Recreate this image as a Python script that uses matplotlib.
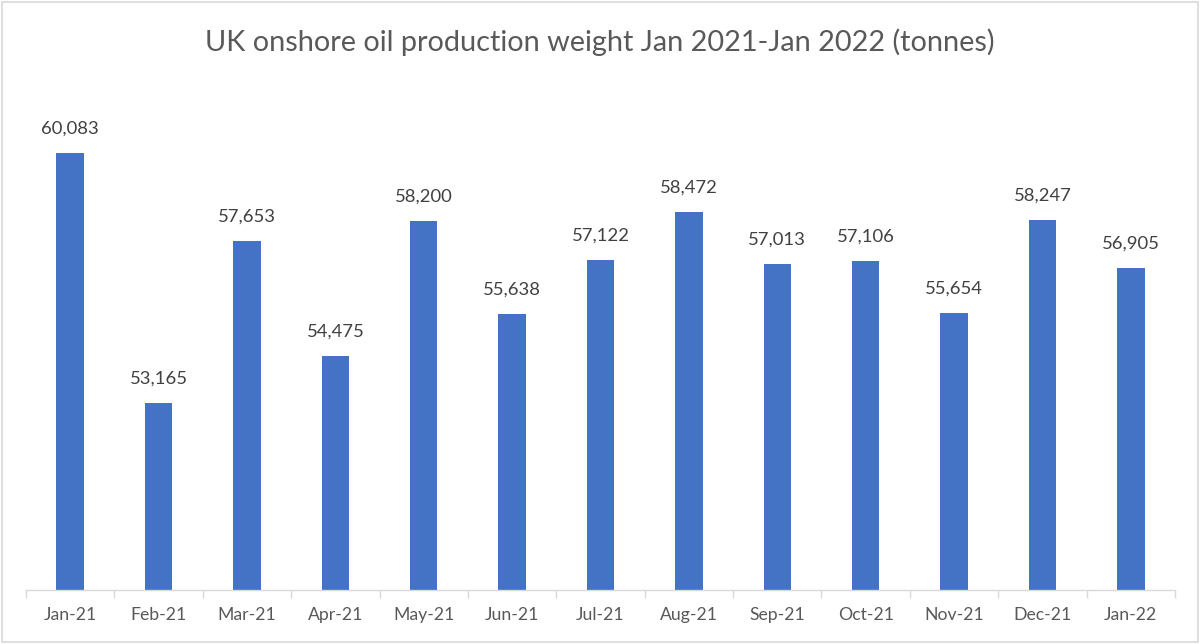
import matplotlib
matplotlib.use("Agg")
import matplotlib.pyplot as plt
from matplotlib.patches import Rectangle

months = ["Jan-21", "Feb-21", "Mar-21", "Apr-21", "May-21", "Jun-21", "Jul-21",
          "Aug-21", "Sep-21", "Oct-21", "Nov-21", "Dec-21", "Jan-22"]
tonnes = [60083, 53165, 57653, 54475, 58200, 55638, 57122,
          58472, 57013, 57106, 55654, 58247, 56905]

plt.rcParams["font.family"] = ["Lato", "DejaVu Sans"]

fig = plt.figure(figsize=(12, 6.44), dpi=100)
ax = fig.add_axes([26 / 1200, 1 - 590 / 644, 1149 / 1200, 506 / 644])

x = range(len(months))
ax.bar(x, tonnes, width=0.31, color="#4472C4", zorder=2)
for i, v in zip(x, tonnes):
    ax.text(i, v + 450, f"{v:,}", ha="center", va="bottom",
            fontsize=13.3, color="#404040")

ax.set_xlim(-0.5, len(months) - 0.5)
ax.set_ylim(48000, 62000)
ax.set_yticks([])
ax.set_xticks(list(x))
ax.set_xticklabels(months, fontsize=12.7, color="#595959")
ax.tick_params(axis="x", length=0, pad=12)
# category boundary ticks
ax.set_xticks([i - 0.5 for i in range(len(months) + 1)], minor=True)
ax.tick_params(axis="x", which="minor", length=6, color="#d9d9d9", width=1)

for side in ["top", "right", "left"]:
    ax.spines[side].set_visible(False)
ax.spines["bottom"].set_color("#d9d9d9")
ax.spines["bottom"].set_linewidth(1)

fig.text(0.5, 1 - 42 / 644, "UK onshore oil production weight Jan 2021-Jan 2022 (tonnes)",
         ha="center", va="center", fontsize=20.8, color="#595959")

fig.patches.append(Rectangle((0.002, 0.003), 0.996, 0.994, transform=fig.transFigure,
                             fill=False, edgecolor="#d9d9d9", linewidth=1.2))

fig.savefig("out.png", dpi=100)
